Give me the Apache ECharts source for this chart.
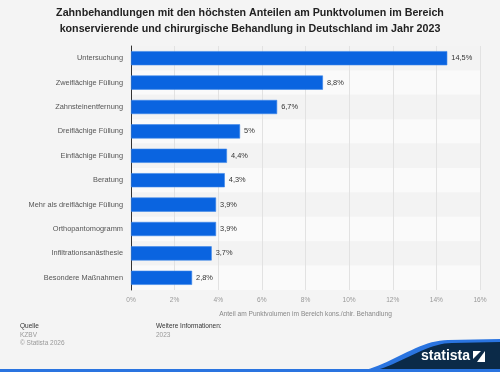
<!DOCTYPE html>
<html><head><meta charset="utf-8">
<script src="https://cdn.jsdelivr.net/npm/echarts@6/dist/echarts.min.js"></script>
<style>html,body{margin:0;padding:0;background:#f4f4f4}#c{width:500px;height:372px}</style>
</head><body><div id="c"></div>
<script>
const categories = ["Untersuchung","Zweiflächige Füllung","Zahnsteinentfernung","Dreiflächige Füllung","Einflächige Füllung","Beratung","Mehr als dreiflächige Füllung","Orthopantomogramm","Infiltrationsanästhesie","Besondere Maßnahmen"];
const values = [14.5, 8.8, 6.7, 5, 4.4, 4.3, 3.9, 3.9, 3.7, 2.8];
const xTicks = [0,2,4,6,8,10,12,14,16];
const titleLines = ["Zahnbehandlungen mit den höchsten Anteilen am Punktvolumen im Bereich","konservierende und chirurgische Behandlung in Deutschland im Jahr 2023"];
const axisName = "Anteil am Punktvolumen im Bereich kons./chir. Behandlung";

const font = "Arial, 'Liberation Sans', sans-serif";
const chart = echarts.init(document.getElementById('c'), null, {renderer:'canvas'});
const fmt = v => String(v).replace('.', ',') + '%';

function wave(x0, x1, yTop, dx) {
  const pts = [];
  for (let i = 0; i <= 24; i++) {
    const t = i / 24;
    const s = t * t * (3 - 2 * t);
    pts.push([x0 + (x1 - x0) * t, 372 - (372 - yTop) * s]);
  }
  pts.push([500, yTop - dx]);
  pts.push([500, 372]);
  return pts;
}

chart.setOption({
  backgroundColor: '#f4f4f4',
  animation: false,
  title: {
    text: titleLines.join('\n'), left: 'center', top: 0,
    textStyle: {fontFamily: font, fontSize: 10.7, fontWeight: 'bold', color: '#222', lineHeight: 16}
  },
  grid: {left: 131, right: 20, top: 46, bottom: 82, containLabel: false},
  xAxis: {
    type: 'value', min: xTicks[0], max: xTicks[xTicks.length-1], interval: 2,
    axisLine: {show: false}, axisTick: {show: false},
    splitLine: {show: true, lineStyle: {color: '#e2e2e2', width: 1}},
    axisLabel: {formatter: v => v + '%', color: '#999', fontSize: 6.6, fontFamily: font, margin: 7},
    name: axisName, nameLocation: 'middle', nameGap: 21,
    nameTextStyle: {color: '#888', fontSize: 6.6, fontFamily: font}
  },
  yAxis: {
    type: 'category', data: categories, inverse: true,
    axisLine: {show: true, lineStyle: {color: '#333', width: 1}},
    axisTick: {show: false},
    splitArea: {show: true, areaStyle: {color: ['#f3f3f3', '#fafafa']}},
    axisLabel: {color: '#555', fontSize: 7.4, fontFamily: font, margin: 8}
  },
  series: [{
    type: 'bar', data: values, barWidth: '58%',
    itemStyle: {color: '#0a64e0', borderColor: '#3c86ea', borderWidth: 0.6},
    label: {show: true, position: 'right', distance: 4, formatter: p => fmt(p.value),
      color: '#333', fontSize: 7.4, fontFamily: font}
  }],
  graphic: {elements: [
    {type: 'text', x: 20, y: 323, style: {text: 'Quelle', fill: '#333', fontSize: 6.5, fontFamily: font}},
    {type: 'text', x: 20, y: 332, style: {text: 'KZBV', fill: '#999', fontSize: 6.5, fontFamily: font}},
    {type: 'text', x: 20, y: 340, style: {text: '© Statista 2026', fill: '#999', fontSize: 6.5, fontFamily: font}},
    {type: 'text', x: 156, y: 323, style: {text: 'Weitere Informationen:', fill: '#333', fontSize: 6.5, fontFamily: font}},
    {type: 'text', x: 156, y: 332, style: {text: '2023', fill: '#999', fontSize: 6.5, fontFamily: font}},
    {type: 'polygon', shape: {points: wave(350, 448, 340, 1)}, style: {fill: '#2a74e0'}},
    {type: 'polygon', shape: {points: wave(362, 452, 343, 1)}, style: {fill: '#0b2a48'}},
    {type: 'rect', shape: {x: 0, y: 369, width: 500, height: 3}, style: {fill: '#2a74e0'}},
    {type: 'text', x: 421, y: 349, style: {text: 'statista', fill: '#fff', fontSize: 14, fontWeight: 'bold', fontFamily: font}},
    {type: 'rect', shape: {x: 473, y: 351, width: 12, height: 11}, style: {fill: '#fff'}},
    {type: 'polygon', shape: {points: [[473,359],[481,351],[485,351],[477,362],[473,362]]}, style: {fill: '#0b2a48'}}
  ]}
});
</script></body></html>
